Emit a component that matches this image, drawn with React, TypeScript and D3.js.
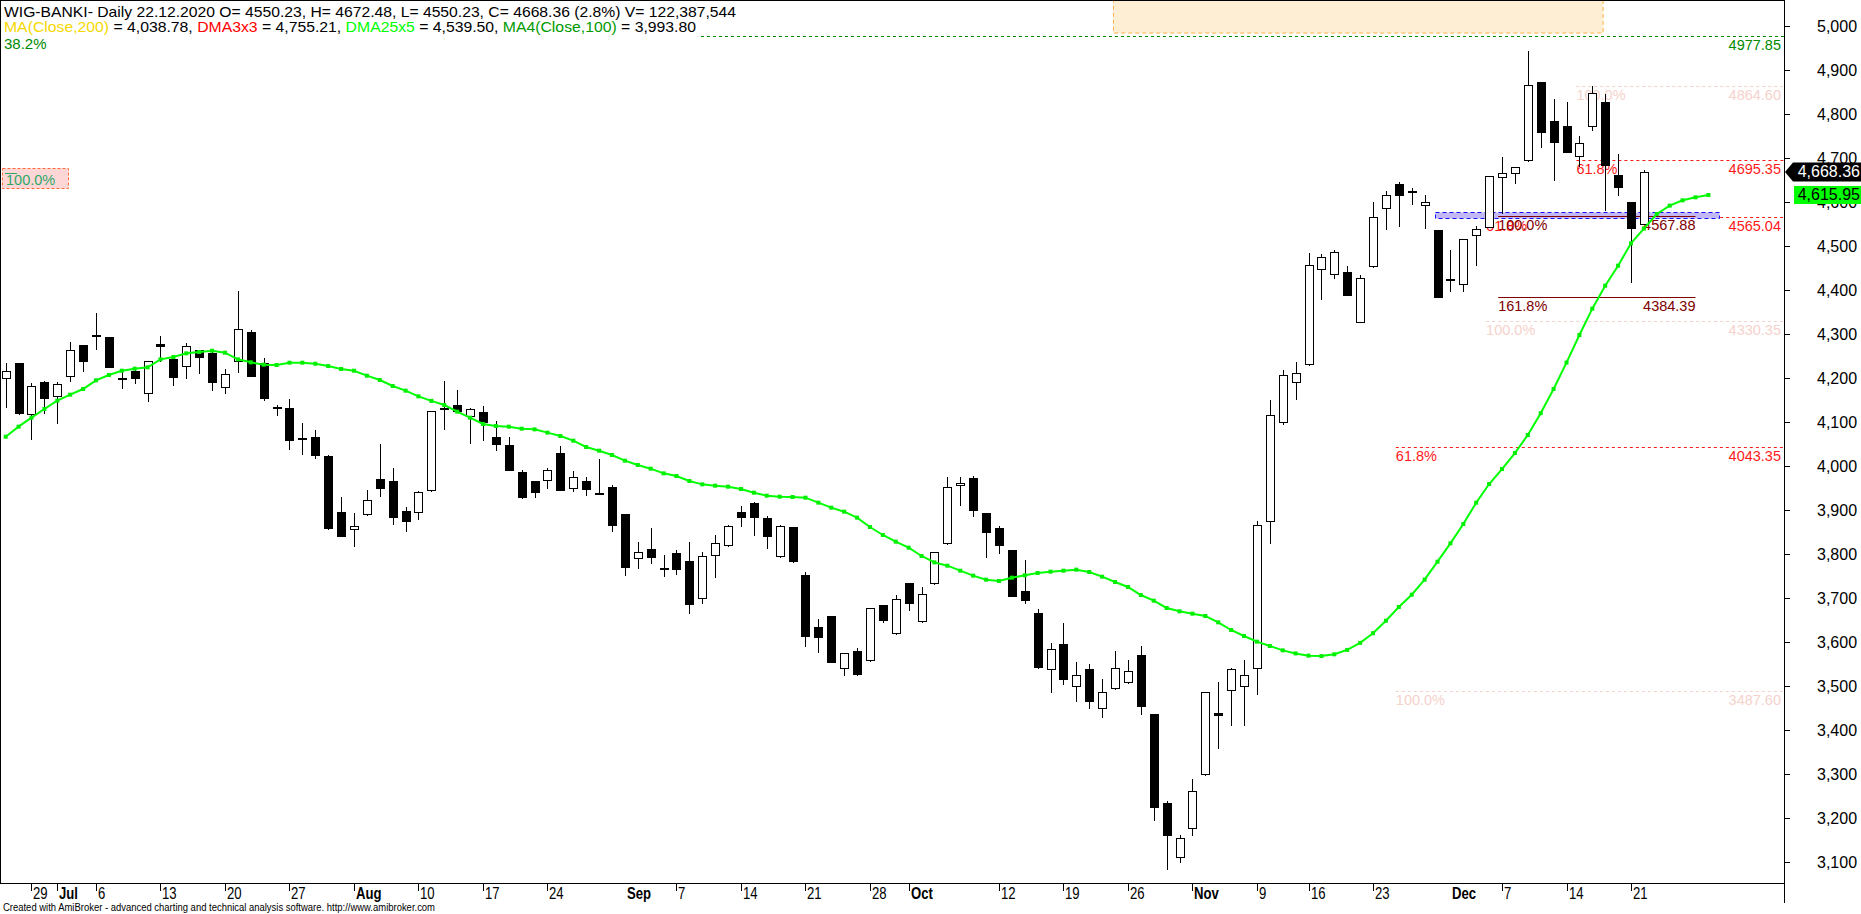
import React from 'react';
import * as d3 from 'd3';

// ---------- DATA (WIG-BANKI daily, 25 Jun 2020 .. 22 Dec 2020, bar index 0..127) ----------
const opens = [4201,4233,4119,4192,4160,4205,4275,4297,4293,4200,4216,4165,4277,4243,4228,4263,4257,4179,4238,4305,4234,4134,4132,4063,4066,4023,3895,3856,3890,3970,3966,3898,3895,3945,4131,4138,4114,4123,4065,4047,3986,3965,3969,4029,3951,3967,3938,3952,3891,3792,3811,3768,3802,3784,3699,3797,3820,3895,3917,3881,3796,3861,3752,3633,3659,3540,3580,3558,3684,3620,3733,3648,3733,3824,3956,3973,3893,3858,3808,3717,3667,3538,3595,3501,3538,3449,3495,3508,3570,3436,3234,3111,3178,3301,3438,3490,3499,3542,3874,4099,4190,4231,4447,4436,4440,4328,4454,4587,4640,4624,4593,4536,4422,4413,4526,4544,4657,4667,4695,4872,4784,4772,4704,4773,4827,4661,4599,4550.23];
const highs = [4233,4235,4188,4193,4191,4282,4276,4348,4294,4214,4223,4239,4295,4250,4280,4264,4258,4220,4398,4308,4245,4138,4152,4097,4081,4024,3929,3893,3945,4050,3995,3906,3943,4126,4193,4173,4131,4136,4102,4065,3990,3966,3996,4045,3989,3975,4016,3957,3892,3827,3859,3798,3809,3827,3805,3843,3866,3909,3918,3886,3866,3862,3758,3652,3660,3575,3586,3678,3685,3707,3734,3725,3805,3975,3974,3977,3894,3864,3809,3786,3676,3598,3643,3555,3549,3516,3580,3558,3591,3437,3239,3161,3289,3487,3509,3540,3559,3875,4151,4218,4236,4484,4482,4491,4455,4433,4600,4625,4646,4631,4616,4537,4491,4516,4545,4660,4702,4680,4943,4873,4833,4828,4749,4864,4845,4708,4600,4672.48];
const lows = [4133,4118,4062,4121,4098,4194,4217,4266,4224,4178,4189,4148,4239,4185,4201,4212,4173,4167,4214,4204,4150,4117,4039,4028,4019,3856,3840,3819,3889,3932,3869,3853,3880,3944,4085,4124,4053,4058,4037,3990,3928,3930,3951,3945,3944,3935,3936,3853,3753,3769,3780,3751,3755,3667,3689,3748,3819,3864,3844,3814,3794,3781,3592,3578,3554,3526,3524,3557,3646,3619,3673,3646,3732,3823,3912,3887,3794,3803,3704,3689,3542,3486,3505,3467,3449,3429,3494,3507,3436,3196,3085,3101,3162,3297,3358,3411,3411,3482,3824,4095,4153,4230,4380,4428,4388,4327,4453,4539,4546,4596,4542,4383,4398,4398,4457,4543,4574,4644,4694,4726,4649,4713,4682,4764,4582,4617,4419,4550.23];
const closes = [4215,4121,4181,4155,4186,4263,4239,4295,4225,4199,4201,4238,4272,4203,4272,4248,4192,4208,4311,4205,4155,4132,4058,4061,4026,3858,3841,3863,3922,3951,3885,3876,3941,4124,4129,4126,4130,4101,4051,3992,3930,3942,3990,3946,3974,3948,3937,3867,3771,3804,3794,3766,3767,3687,3795,3824,3863,3885,3883,3842,3863,3785,3614,3612,3555,3574,3528,3677,3651,3697,3689,3708,3804,3952,3961,3901,3849,3821,3705,3696,3544,3583,3517,3526,3465,3486,3542,3534,3455,3226,3162,3154,3261,3486,3433,3538,3524,3865,4115,4206,4211,4456,4476,4486,4389,4427,4565,4615,4617,4622,4601,4385,4426,4515,4538,4659,4667,4679,4865,4758,4736,4714,4733,4847,4684,4635,4541,4668.36];

// DMA25x5 (25-bar average displaced 5 bars forward), bar index 0..132
const dma25x5 = [4066.6,4089.4,4109.8,4129.5,4148.4,4162.1,4175.0,4194.7,4206.8,4216.6,4221.2,4224.2,4242.4,4247.7,4256.0,4259.1,4262.1,4257.5,4242.4,4235.6,4230.3,4229.5,4234.8,4234.8,4232.5,4227.2,4220.4,4216.6,4205.3,4195.4,4181.8,4171.2,4158.3,4148.0,4138.6,4123.5,4109.8,4095.5,4090.9,4089.4,4084.8,4083.3,4075.8,4068.2,4057.6,4043.2,4034.8,4025.0,4012.1,4002.3,3993.9,3983.3,3977.3,3965.9,3958.3,3955.3,3953.0,3947.7,3939.4,3932.6,3930.3,3929.5,3928.0,3916.7,3905.3,3896.2,3882.6,3861.4,3843.2,3828.0,3814.4,3795.5,3781.0,3773.5,3762.1,3750.8,3741.7,3738.6,3746.2,3751.5,3756.8,3759.9,3762.1,3764.4,3759.1,3748.5,3736.4,3725.0,3706.8,3693.9,3677.3,3669.7,3664.4,3659.1,3644.7,3627.3,3613.6,3600.8,3590.9,3581,3574,3569,3568,3572,3582,3598,3620,3648.4,3679.5,3707.5,3741.6,3782.5,3824.2,3868.1,3916.6,3959.0,3993.1,4029.5,4070.4,4120,4175,4235,4297.7,4357.6,4409.9,4455.3,4506.0,4539.5,4572.7,4591.7,4603.8,4610.6,4615.95];

// x-axis labels (bar index of each label)
const xTickIdx = [2,4,7,12,17,22,27,32,37,42,48,52,57,62,67,70,77,82,87,92,97,101,106,112,116,121,126];
const xTickLabels = ['29','Jul','6','13','20','27','Aug','10','17','24','Sep','7','14','21','28','Oct','12','19','26','Nov','9','16','23','Dec','7','14','21'];
const monthLabels = ['Jul','Aug','Sep','Oct','Nov','Dec'];
const noTickLabels = ['Sep','Dec'];

const yTicks = d3.range(3100, 5001, 100);

// Fibonacci drawings
const fibStarts = [108, 108, 115, 115, 122, 122];
const fibPrices = [3487.60, 4043.35, 4330.35, 4565.04, 4864.60, 4695.35];
const fibPcts = ['100.0%', '61.8%', '100.0%', '61.8%', '100.0%', '61.8%'];
const fibKinds = ['faint', 'red', 'faint', 'red', 'faint', 'red'];

const extStart = 115.7;
const extEnd = 131.0;
const extPrices = [4567.88, 4384.39];
const extPcts = ['100.0%', '161.8%'];

const greenFibPrice = 4977.85;
const greenFibPct = '38.2%';
const greenStubPrice = 4666;

const orangeBoxIdx = [85.84, 123.8];
const orangeBoxPrices = [5060, 4984];
const blueBoxIdx = [110.8, 132.8];
const blueBoxPrices = [4563, 4577];

const lastClose = 4668.36;
const lastDma = 4615.95;

const header1 = 'WIG-BANKI- Daily 22.12.2020 O= 4550.23, H= 4672.48, L= 4550.23, C= 4668.36 (2.8%) V= 122,387,544';
const header2Parts: [string, string][] = [
  ['MA(Close,200)', '#f5d800'], [' = 4,038.78, ', '#000'],
  ['DMA3x3', '#ff0000'], [' = 4,755.21, ', '#000'],
  ['DMA25x5', '#00ff00'], [' = 4,539.50, ', '#000'],
  ['MA4(Close,100)', '#009a00'], [' = 3,993.80', '#000'],
];
const footer = 'Created with AmiBroker - advanced charting and technical analysis software. http://www.amibroker.com';

// ---------- LAYOUT ----------
const W = 1861, H = 914;
const PR = 1784, PB = 883;
const FONT = "'Liberation Sans', Arial, Helvetica, sans-serif";
const HEADER1_LEN = 732;
const HEADER2_LEN = 692;

export default function App() {
  const x = d3.scaleLinear().domain([0, 127]).range([5.7, 1643.9]);
  const y = d3.scaleLinear().domain([3100, 5000]).range([862, 26]);
  const fmt = d3.format(',');
  const fmt2 = d3.format(',.2f');

  const greenStartX = 4 + HEADER2_LEN + 5;

  const line = d3.line<number>().x((_, i) => x(i)).y(v => y(v));

  const faint = '#f6d2cc';
  const red = '#ff1a1a';
  const darkRed = '#800000';
  const fibGreen = '#008a00';

  return (
    <div style={{ position: 'absolute', left: 0, top: 0, width: W, height: H, background: '#fff' }}>
      <svg width={W} height={H} style={{ display: 'block' }} fontFamily={FONT}>
        <defs>
          <clipPath id="plot"><rect x={0} y={0} width={PR} height={PB} /></clipPath>
        </defs>
        <rect x={0} y={0} width={W} height={H} fill="#fff" />

        <g clipPath="url(#plot)">
          {/* orange box */}
          <rect x={x(orangeBoxIdx[0]) + 0.5} y={y(orangeBoxPrices[0])} width={x(orangeBoxIdx[1]) - x(orangeBoxIdx[0])}
            height={y(orangeBoxPrices[1]) - y(orangeBoxPrices[0])} fill="#feefd4" stroke="#ffb04a" strokeDasharray="4,3" />

          {/* green 38.2% fib */}
          <line x1={greenStartX} x2={PR} y1={Math.round(y(greenFibPrice)) + 0.5} y2={Math.round(y(greenFibPrice)) + 0.5}
            stroke={fibGreen} strokeDasharray="3,3" />
          <text x={PR - 3} y={y(greenFibPrice) + 14} fontSize={14.5} fill={fibGreen} textAnchor="end">{greenFibPrice.toFixed(2)}</text>

          {/* fib sets */}
          {fibPrices.map((p, k) => {
            const c = fibKinds[k] === 'red' ? red : faint;
            const x0 = x(fibStarts[k]) - 3;
            const yy = Math.round(y(p)) + 0.5;
            return (
              <g key={'fib' + k}>
                <line x1={x0} x2={PR} y1={yy} y2={yy} stroke={c} strokeDasharray="3,3" />
                <text x={x0} y={yy + 13.5} fontSize={14.5} fill={c}>{fibPcts[k]}</text>
                <text x={PR - 3} y={yy + 13.5} fontSize={14.5} fill={c} textAnchor="end">{p.toFixed(2)}</text>
              </g>
            );
          })}

          {/* blue zone */}
          <rect x={Math.round(x(blueBoxIdx[0])) + 0.5} y={Math.round(y(blueBoxPrices[1])) + 0.5}
            width={Math.round(x(blueBoxIdx[1]) - x(blueBoxIdx[0]))} height={Math.round(y(blueBoxPrices[0]) - y(blueBoxPrices[1]))}
            fill="#c3b8f6" stroke="#1010ff" strokeDasharray="4,3" />

          {/* extension fib (dark red) */}
          {extPrices.map((p, k) => {
            const yy = Math.round(y(p)) + 0.5;
            return (
              <g key={'ext' + k}>
                <line x1={x(extStart)} x2={x(extEnd)} y1={yy} y2={yy} stroke={darkRed} strokeWidth={1.2} />
                <text x={x(extStart)} y={yy + 13.5} fontSize={14.5} fill={darkRed}>{extPcts[k]}</text>
                <text x={x(extEnd)} y={yy + 13.5} fontSize={14.5} fill={darkRed} textAnchor="end">{p.toFixed(2)}</text>
              </g>
            );
          })}

          {/* left label box */}
          <rect x={2.5} y={Math.round(y(greenStubPrice)) - 4.5} width={66} height={20} fill="#ffd6d6" stroke="#ff6a3a" strokeDasharray="3,2" />
          <line x1={5} x2={17} y1={Math.round(y(greenStubPrice)) + 0.5} y2={Math.round(y(greenStubPrice)) + 0.5} stroke="#2aa86a" />
          <text x={6} y={Math.round(y(greenStubPrice)) + 12} fontSize={14.5} fill="#2aa86a">100.0%</text>

          {/* candles */}
          {opens.map((o, i) => {
            const c = closes[i];
            const xi = Math.round(x(i));
            const yh = Math.round(y(highs[i]));
            const yl = Math.round(y(lows[i]));
            const yt = Math.round(y(Math.max(o, c)));
            const yb = Math.round(y(Math.min(o, c)));
            const up = c > o;
            const small = yb - yt < 2;
            return (
              <g key={'c' + i}>
                <line x1={xi + 0.5} x2={xi + 0.5} y1={yh} y2={yl + 1} stroke="#000" strokeWidth={1} />
                {small ? (
                  <rect x={xi - 4} y={yt} width={9} height={2} fill="#000" />
                ) : up ? (
                  <rect x={xi - 4 + 0.5} y={yt + 0.5} width={8} height={yb - yt} fill="#fff" stroke="#000" strokeWidth={1} />
                ) : (
                  <rect x={xi - 4} y={yt} width={9} height={yb - yt + 1} fill="#000" />
                )}
              </g>
            );
          })}

          {/* DMA25x5 */}
          <path d={line(dma25x5) || ''} fill="none" stroke="#00ff00" strokeWidth={2} />
          {dma25x5.map((v, i) => (
            <rect key={'m' + i} x={x(i) - 2} y={y(v) - 2} width={4} height={4} fill="#00ee00" />
          ))}
        </g>

        {/* header */}
        <text x={4} y={17} fontSize={15} fill="#000" textLength={HEADER1_LEN} lengthAdjust="spacingAndGlyphs">{header1}</text>
        <text x={4} y={32} fontSize={15} textLength={HEADER2_LEN} lengthAdjust="spacingAndGlyphs">
          {header2Parts.map((p, k) => <tspan key={k} fill={p[1]}>{p[0]}</tspan>)}
        </text>
        <text x={4} y={49} fontSize={15} fill={fibGreen}>{greenFibPct}</text>

        {/* frame */}
        <line x1={0} x2={PR} y1={0.5} y2={0.5} stroke="#000" />
        <line x1={0.5} x2={0.5} y1={0} y2={PB} stroke="#000" />
        <line x1={0} x2={PR} y1={PB + 0.5} y2={PB + 0.5} stroke="#000" />
        <line x1={PR + 0.5} x2={PR + 0.5} y1={0} y2={903} stroke="#000" />

        {/* y axis */}
        {yTicks.map(t => {
          const yy = Math.round(y(t)) + 0.5;
          return (
            <g key={'yt' + t}>
              <line x1={PR} x2={PR + 6} y1={yy} y2={yy} stroke="#000" />
              <text x={1817} y={yy + 5.5} fontSize={16} fill="#000">{fmt(t)}</text>
            </g>
          );
        })}

        {/* last price boxes */}
        {(() => {
          const yy = y(lastClose);
          return (
            <g>
              <path d={`M${PR + 1},${yy} L${PR + 9},${yy - 9.5} L${W},${yy - 9.5} L${W},${yy + 9.5} L${PR + 9},${yy + 9.5} Z`} fill="#000" />
              <text x={W - 1} y={yy + 5.5} fontSize={16} fill="#fff" textAnchor="end">{fmt2(lastClose)}</text>
            </g>
          );
        })()}
        {(() => {
          const yy = y(lastDma);
          return (
            <g>
              <rect x={PR + 10} y={yy - 9} width={W - PR - 10} height={18} fill="#00ff00" />
              <text x={W - 1} y={yy + 5.5} fontSize={16} fill="#000" textAnchor="end">{fmt2(lastDma)}</text>
            </g>
          );
        })()}

        {/* x axis */}
        {xTickIdx.map((idx, k) => {
          const lbl = xTickLabels[k];
          const xi = Math.round(x(idx));
          const bold = monthLabels.includes(lbl);
          return (
            <g key={'xt' + k}>
              {!noTickLabels.includes(lbl) && (
                <line x1={xi + 0.5} x2={xi + 0.5} y1={PB} y2={PB + 8} stroke="#000" />
              )}
              <text x={xi + 2} y={899} fontSize={16} fontWeight={bold ? 'bold' : 'normal'} fill="#000"
                transform={`translate(${xi + 2},0) scale(0.82,1) translate(${-(xi + 2)},0)`}>{lbl}</text>
            </g>
          );
        })}

        {/* footer */}
        <text x={3} y={911} fontSize={10} fill="#000" textLength={432} lengthAdjust="spacingAndGlyphs">{footer}</text>
      </svg>
    </div>
  );
}
